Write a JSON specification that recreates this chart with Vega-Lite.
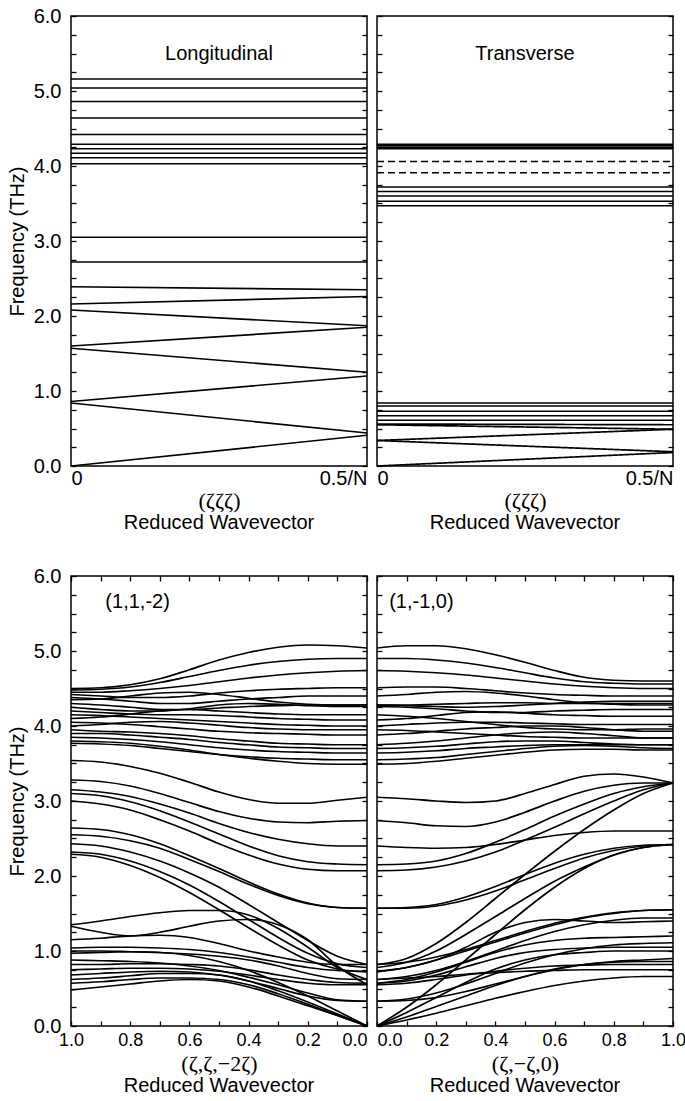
{
"$schema": "https://vega.github.io/schema/vega-lite/v6.json",
"background": "white",
"padding": {"left": 6, "top": 5, "right": 3, "bottom": 5},
"config": {
 "view": {"stroke": "black", "strokeWidth": 1.5},
 "font": "Liberation Sans",
 "axis": {"domain": false, "grid": false, "tickColor": "black", "labelColor": "black", "titleColor": "black", "labelFont": "Liberation Sans", "labelFontSize": 20, "titleFont": "Liberation Sans", "titleFontSize": 20, "titleFontWeight": "normal", "tickSize": -5, "tickWidth": 1.3},
 "title": {"font": "Liberation Sans", "fontSize": 20, "fontWeight": "normal", "color": "black"},
 "line": {"color": "black", "strokeWidth": 1.7},
 "text": {"font": "Liberation Sans", "fontSize": 20, "color": "black"}
},
"datasets": {
 "long": [
  {"c":"a1","x":[0,0.5],"v":[5.16,5.16]},
  {"c":"a2","x":[0,0.5],"v":[5.04,5.04]},
  {"c":"a3","x":[0,0.5],"v":[4.86,4.86]},
  {"c":"a4","x":[0,0.5],"v":[4.64,4.64]},
  {"c":"a5","x":[0,0.5],"v":[4.42,4.42]},
  {"c":"a6","x":[0,0.5],"v":[4.29,4.29]},
  {"c":"a7","x":[0,0.5],"v":[4.23,4.23]},
  {"c":"a8","x":[0,0.5],"v":[4.17,4.17]},
  {"c":"a9","x":[0,0.5],"v":[4.11,4.11]},
  {"c":"a10","x":[0,0.5],"v":[4.03,4.03]},
  {"c":"a11","x":[0,0.5],"v":[3.05,3.05]},
  {"c":"a12","x":[0,0.5],"v":[2.72,2.72]},
  {"c":"a13","x":[0,0.5],"v":[2.39,2.35]},
  {"c":"a14","x":[0,0.5],"v":[2.16,2.26]},
  {"c":"a15","x":[0,0.5],"v":[2.08,1.87]},
  {"c":"a16","x":[0,0.5],"v":[1.60,1.85]},
  {"c":"a17","x":[0,0.5],"v":[1.57,1.25]},
  {"c":"a18","x":[0,0.5],"v":[0.86,1.20]},
  {"c":"a19","x":[0,0.5],"v":[0.84,0.44]},
  {"c":"a20","x":[0,0.5],"v":[0.0,0.41]}
 ],
 "trans": [
  {"c":"b1","k":"s","x":[0,0.5],"v":[4.29,4.29]},
  {"c":"b2","k":"s","x":[0,0.5],"v":[4.27,4.27]},
  {"c":"b3","k":"s","x":[0,0.5],"v":[4.25,4.25]},
  {"c":"b4","k":"s","x":[0,0.5],"v":[4.23,4.23]},
  {"c":"b5","k":"d","x":[0,0.5],"v":[4.06,4.06]},
  {"c":"b6","k":"d","x":[0,0.5],"v":[3.91,3.91]},
  {"c":"b7","k":"s","x":[0,0.5],"v":[3.72,3.72]},
  {"c":"b8","k":"s","x":[0,0.5],"v":[3.66,3.66]},
  {"c":"b9","k":"s","x":[0,0.5],"v":[3.60,3.60]},
  {"c":"b10","k":"s","x":[0,0.5],"v":[3.53,3.53]},
  {"c":"b11","k":"s","x":[0,0.5],"v":[3.47,3.47]},
  {"c":"b12","k":"s","x":[0,0.5],"v":[0.84,0.84]},
  {"c":"b13","k":"s","x":[0,0.5],"v":[0.80,0.80]},
  {"c":"b14","k":"s","x":[0,0.5],"v":[0.73,0.73]},
  {"c":"b15","k":"s","x":[0,0.5],"v":[0.67,0.67]},
  {"c":"b16","k":"s","x":[0,0.5],"v":[0.61,0.61]},
  {"c":"b17","k":"s","x":[0,0.5],"v":[0.56,0.55]},
  {"c":"b18","k":"s","x":[0,0.5],"v":[0.55,0.49]},
  {"c":"b19","k":"s","x":[0,0.5],"v":[0.34,0.49]},
  {"c":"b20","k":"s","x":[0,0.5],"v":[0.34,0.19]},
  {"c":"b21","k":"s","x":[0,0.5],"v":[0.0,0.18]}
 ],
 "left": [
  {"c":"U1","x":[1,0.9,0.8,0.7,0.6,0.5,0.4,0.3,0.2,0.1,0],"v":[4.50,4.51,4.55,4.63,4.75,4.88,4.98,5.05,5.08,5.07,5.04]},
  {"c":"U2","x":[1,0.9,0.8,0.7,0.6,0.5,0.4,0.3,0.2,0.1,0],"v":[4.48,4.49,4.52,4.58,4.66,4.74,4.81,4.86,4.89,4.90,4.90]},
  {"c":"U3","x":[1,0.9,0.8,0.7,0.6,0.5,0.4,0.3,0.2,0.1,0],"v":[4.45,4.45,4.47,4.50,4.54,4.59,4.64,4.68,4.71,4.73,4.74]},
  {"c":"U4","x":[1,0.9,0.8,0.7,0.6,0.5,0.4,0.3,0.2,0.1,0],"v":[4.42,4.40,4.38,4.38,4.40,4.44,4.47,4.49,4.50,4.51,4.51]},
  {"c":"U5","x":[1,0.9,0.8,0.7,0.6,0.5,0.4,0.3,0.2,0.1,0],"v":[4.38,4.36,4.33,4.30,4.30,4.33,4.36,4.38,4.40,4.40,4.40]},
  {"c":"U6","x":[1,0.9,0.8,0.7,0.6,0.5,0.4,0.3,0.2,0.1,0],"v":[4.35,4.36,4.40,4.44,4.45,4.42,4.37,4.32,4.29,4.28,4.28]},
  {"c":"U7","x":[1,0.9,0.8,0.7,0.6,0.5,0.4,0.3,0.2,0.1,0],"v":[4.30,4.28,4.25,4.22,4.22,4.24,4.26,4.27,4.28,4.28,4.28]},
  {"c":"U8","x":[1,0.9,0.8,0.7,0.6,0.5,0.4,0.3,0.2,0.1,0],"v":[4.25,4.22,4.20,4.20,4.23,4.28,4.30,4.29,4.27,4.26,4.26]},
  {"c":"U9","x":[1,0.9,0.8,0.7,0.6,0.5,0.4,0.3,0.2,0.1,0],"v":[4.20,4.18,4.16,4.15,4.15,4.14,4.12,4.10,4.09,4.08,4.08]},
  {"c":"U10","x":[1,0.9,0.8,0.7,0.6,0.5,0.4,0.3,0.2,0.1,0],"v":[4.15,4.14,4.12,4.10,4.08,4.06,4.04,4.02,4.01,4.00,4.00]},
  {"c":"U11","x":[1,0.9,0.8,0.7,0.6,0.5,0.4,0.3,0.2,0.1,0],"v":[4.10,4.12,4.16,4.20,4.22,4.20,4.18,4.16,4.15,4.15,4.15]},
  {"c":"U12","x":[1,0.9,0.8,0.7,0.6,0.5,0.4,0.3,0.2,0.1,0],"v":[4.05,4.04,4.02,3.99,3.96,3.93,3.91,3.90,3.89,3.88,3.88]},
  {"c":"U13","x":[1,0.9,0.8,0.7,0.6,0.5,0.4,0.3,0.2,0.1,0],"v":[4.00,4.02,4.05,4.06,4.04,4.01,3.98,3.96,3.95,3.95,3.95]},
  {"c":"U14","x":[1,0.9,0.8,0.7,0.6,0.5,0.4,0.3,0.2,0.1,0],"v":[3.95,3.93,3.92,3.90,3.87,3.83,3.80,3.77,3.76,3.75,3.75]},
  {"c":"U15","x":[1,0.9,0.8,0.7,0.6,0.5,0.4,0.3,0.2,0.1,0],"v":[3.90,3.90,3.88,3.85,3.82,3.78,3.75,3.72,3.71,3.70,3.70]},
  {"c":"U16","x":[1,0.9,0.8,0.7,0.6,0.5,0.4,0.3,0.2,0.1,0],"v":[3.85,3.84,3.82,3.79,3.75,3.71,3.68,3.66,3.65,3.64,3.64]},
  {"c":"U17","x":[1,0.9,0.8,0.7,0.6,0.5,0.4,0.3,0.2,0.1,0],"v":[3.80,3.79,3.77,3.73,3.68,3.62,3.57,3.53,3.50,3.49,3.49]},
  {"c":"U18","x":[1,0.9,0.8,0.7,0.6,0.5,0.4,0.3,0.2,0.1,0],"v":[3.77,3.76,3.74,3.70,3.66,3.62,3.59,3.57,3.56,3.55,3.55]},
  {"c":"M1","x":[1,0.9,0.8,0.7,0.6,0.5,0.4,0.3,0.2,0.1,0],"v":[3.54,3.52,3.46,3.37,3.25,3.12,3.02,2.97,2.97,3.01,3.05]},
  {"c":"M2","x":[1,0.9,0.8,0.7,0.6,0.5,0.4,0.3,0.2,0.1,0],"v":[3.28,3.26,3.20,3.10,2.98,2.86,2.77,2.72,2.71,2.73,2.74]},
  {"c":"M3","x":[1,0.9,0.8,0.7,0.6,0.5,0.4,0.3,0.2,0.1,0],"v":[3.15,3.12,3.06,2.96,2.84,2.70,2.58,2.49,2.43,2.40,2.40]},
  {"c":"M4","x":[1,0.9,0.8,0.7,0.6,0.5,0.4,0.3,0.2,0.1,0],"v":[3.10,3.07,2.99,2.87,2.72,2.56,2.40,2.27,2.19,2.16,2.15]},
  {"c":"M5","x":[1,0.9,0.8,0.7,0.6,0.5,0.4,0.3,0.2,0.1,0],"v":[3.00,2.96,2.88,2.75,2.60,2.43,2.28,2.16,2.09,2.07,2.07]},
  {"c":"M6","x":[1,0.9,0.8,0.7,0.6,0.5,0.4,0.3,0.2,0.1,0],"v":[2.64,2.62,2.55,2.43,2.27,2.10,1.92,1.76,1.64,1.58,1.57]},
  {"c":"M7","x":[1,0.9,0.8,0.7,0.6,0.5,0.4,0.3,0.2,0.1,0],"v":[2.55,2.53,2.47,2.37,2.22,2.06,1.89,1.74,1.63,1.58,1.57]},
  {"c":"M8","x":[1,0.9,0.8,0.7,0.6,0.5,0.4,0.3,0.2,0.1,0],"v":[2.43,2.40,2.32,2.20,2.04,1.85,1.62,1.38,1.14,0.93,0.82]},
  {"c":"M9","x":[1,0.9,0.8,0.7,0.6,0.5,0.4,0.3,0.2,0.1,0],"v":[2.32,2.29,2.20,2.06,1.88,1.66,1.42,1.18,0.97,0.83,0.78]},
  {"c":"M10","x":[1,0.9,0.8,0.7,0.6,0.5,0.4,0.3,0.2,0.1,0],"v":[2.29,2.25,2.14,1.98,1.78,1.55,1.31,1.08,0.88,0.76,0.72]},
  {"c":"L1","x":[1,0.9,0.8,0.7,0.6,0.5,0.4,0.3,0.2,0.1,0],"v":[1.35,1.40,1.46,1.51,1.54,1.54,1.48,1.30,1.05,0.78,0.62]},
  {"c":"L2","x":[1,0.9,0.8,0.7,0.6,0.5,0.4,0.3,0.2,0.1,0],"v":[1.33,1.25,1.20,1.25,1.33,1.40,1.42,1.35,1.15,0.80,0.55]},
  {"c":"L3","x":[1,0.9,0.8,0.7,0.6,0.5,0.4,0.3,0.2,0.1,0],"v":[1.15,1.17,1.20,1.21,1.18,1.10,1.00,0.92,0.85,0.82,0.82]},
  {"c":"L4","x":[1,0.9,0.8,0.7,0.6,0.5,0.4,0.3,0.2,0.1,0],"v":[1.04,1.05,1.05,1.04,1.02,0.98,0.92,0.85,0.78,0.74,0.73]},
  {"c":"L5","x":[1,0.9,0.8,0.7,0.6,0.5,0.4,0.3,0.2,0.1,0],"v":[1.00,1.00,0.99,0.98,0.96,0.93,0.88,0.80,0.70,0.63,0.62]},
  {"c":"L6","x":[1,0.9,0.8,0.7,0.6,0.5,0.4,0.3,0.2,0.1,0],"v":[0.97,0.98,0.99,0.98,0.94,0.86,0.74,0.58,0.40,0.20,0.00]},
  {"c":"L7","x":[1,0.9,0.8,0.7,0.6,0.5,0.4,0.3,0.2,0.1,0],"v":[0.88,0.87,0.86,0.84,0.80,0.74,0.65,0.55,0.44,0.35,0.33]},
  {"c":"L8","x":[1,0.9,0.8,0.7,0.6,0.5,0.4,0.3,0.2,0.1,0],"v":[0.82,0.82,0.83,0.83,0.82,0.80,0.75,0.68,0.62,0.58,0.57]},
  {"c":"L9","x":[1,0.9,0.8,0.7,0.6,0.5,0.4,0.3,0.2,0.1,0],"v":[0.75,0.76,0.77,0.77,0.76,0.73,0.68,0.62,0.57,0.55,0.55]},
  {"c":"L10","x":[1,0.9,0.8,0.7,0.6,0.5,0.4,0.3,0.2,0.1,0],"v":[0.68,0.70,0.72,0.73,0.72,0.68,0.60,0.50,0.40,0.34,0.33]},
  {"c":"L11","x":[1,0.9,0.8,0.7,0.6,0.5,0.4,0.3,0.2,0.1,0],"v":[0.62,0.64,0.67,0.70,0.70,0.68,0.60,0.47,0.32,0.16,0.00]},
  {"c":"L12","x":[1,0.9,0.8,0.7,0.6,0.5,0.4,0.3,0.2,0.1,0],"v":[0.57,0.59,0.62,0.64,0.64,0.62,0.55,0.43,0.29,0.14,0.00]},
  {"c":"L13","x":[1,0.9,0.8,0.7,0.6,0.5,0.4,0.3,0.2,0.1,0],"v":[0.48,0.52,0.56,0.60,0.62,0.60,0.52,0.40,0.27,0.14,0.00]}
 ],
 "right": [
  {"c":"RU1","x":[0,0.1,0.2,0.3,0.4,0.5,0.6,0.7,0.8,0.9,1],"v":[5.04,5.07,5.07,5.03,4.95,4.85,4.74,4.65,4.61,4.60,4.60]},
  {"c":"RU2","x":[0,0.1,0.2,0.3,0.4,0.5,0.6,0.7,0.8,0.9,1],"v":[4.90,4.90,4.88,4.84,4.78,4.71,4.64,4.59,4.57,4.56,4.56]},
  {"c":"RU3","x":[0,0.1,0.2,0.3,0.4,0.5,0.6,0.7,0.8,0.9,1],"v":[4.74,4.73,4.71,4.68,4.64,4.60,4.56,4.53,4.51,4.50,4.50]},
  {"c":"RU4","x":[0,0.1,0.2,0.3,0.4,0.5,0.6,0.7,0.8,0.9,1],"v":[4.51,4.52,4.52,4.50,4.47,4.44,4.42,4.41,4.40,4.40,4.40]},
  {"c":"RU5","x":[0,0.1,0.2,0.3,0.4,0.5,0.6,0.7,0.8,0.9,1],"v":[4.40,4.42,4.45,4.46,4.44,4.40,4.35,4.31,4.30,4.30,4.30]},
  {"c":"RU6","x":[0,0.1,0.2,0.3,0.4,0.5,0.6,0.7,0.8,0.9,1],"v":[4.28,4.28,4.29,4.30,4.31,4.31,4.30,4.30,4.29,4.28,4.28]},
  {"c":"RU7","x":[0,0.1,0.2,0.3,0.4,0.5,0.6,0.7,0.8,0.9,1],"v":[4.28,4.27,4.26,4.25,4.26,4.28,4.30,4.32,4.33,4.33,4.33]},
  {"c":"RU8","x":[0,0.1,0.2,0.3,0.4,0.5,0.6,0.7,0.8,0.9,1],"v":[4.26,4.25,4.23,4.20,4.18,4.18,4.20,4.21,4.22,4.22,4.22]},
  {"c":"RU9","x":[0,0.1,0.2,0.3,0.4,0.5,0.6,0.7,0.8,0.9,1],"v":[4.08,4.10,4.14,4.18,4.19,4.17,4.15,4.14,4.13,4.13,4.13]},
  {"c":"RU10","x":[0,0.1,0.2,0.3,0.4,0.5,0.6,0.7,0.8,0.9,1],"v":[4.00,4.02,4.04,4.05,4.05,4.04,4.03,4.02,4.02,4.02,4.02]},
  {"c":"RU11","x":[0,0.1,0.2,0.3,0.4,0.5,0.6,0.7,0.8,0.9,1],"v":[4.15,4.13,4.10,4.06,4.02,3.98,3.96,3.95,3.95,3.96,3.96]},
  {"c":"RU12","x":[0,0.1,0.2,0.3,0.4,0.5,0.6,0.7,0.8,0.9,1],"v":[3.88,3.90,3.93,3.96,3.98,4.00,4.00,3.98,3.95,3.93,3.93]},
  {"c":"RU13","x":[0,0.1,0.2,0.3,0.4,0.5,0.6,0.7,0.8,0.9,1],"v":[3.95,3.94,3.92,3.90,3.88,3.86,3.85,3.84,3.84,3.84,3.84]},
  {"c":"RU14","x":[0,0.1,0.2,0.3,0.4,0.5,0.6,0.7,0.8,0.9,1],"v":[3.75,3.77,3.80,3.84,3.88,3.91,3.92,3.90,3.87,3.84,3.84]},
  {"c":"RU15","x":[0,0.1,0.2,0.3,0.4,0.5,0.6,0.7,0.8,0.9,1],"v":[3.70,3.71,3.73,3.76,3.79,3.80,3.80,3.78,3.76,3.75,3.75]},
  {"c":"RU16","x":[0,0.1,0.2,0.3,0.4,0.5,0.6,0.7,0.8,0.9,1],"v":[3.64,3.65,3.67,3.70,3.72,3.74,3.75,3.75,3.75,3.75,3.75]},
  {"c":"RU17","x":[0,0.1,0.2,0.3,0.4,0.5,0.6,0.7,0.8,0.9,1],"v":[3.49,3.50,3.53,3.57,3.61,3.65,3.68,3.69,3.69,3.68,3.68]},
  {"c":"RU18","x":[0,0.1,0.2,0.3,0.4,0.5,0.6,0.7,0.8,0.9,1],"v":[3.55,3.56,3.58,3.62,3.66,3.70,3.73,3.74,3.73,3.71,3.70]},
  {"c":"RM1","x":[0,0.1,0.2,0.3,0.4,0.5,0.6,0.7,0.8,0.9,1],"v":[3.05,3.03,3.00,2.98,3.00,3.10,3.22,3.33,3.36,3.32,3.24]},
  {"c":"RM2","x":[0,0.1,0.2,0.3,0.4,0.5,0.6,0.7,0.8,0.9,1],"v":[2.74,2.71,2.67,2.66,2.72,2.85,3.00,3.13,3.21,3.24,3.24]},
  {"c":"RM3","x":[0,0.1,0.2,0.3,0.4,0.5,0.6,0.7,0.8,0.9,1],"v":[2.40,2.38,2.37,2.38,2.42,2.48,2.54,2.58,2.60,2.60,2.60]},
  {"c":"RM4","x":[0,0.1,0.2,0.3,0.4,0.5,0.6,0.7,0.8,0.9,1],"v":[2.15,2.16,2.20,2.30,2.45,2.62,2.80,2.96,3.10,3.19,3.24]},
  {"c":"RM5","x":[0,0.1,0.2,0.3,0.4,0.5,0.6,0.7,0.8,0.9,1],"v":[2.07,2.08,2.12,2.20,2.32,2.48,2.65,2.83,3.00,3.15,3.24]},
  {"c":"RM6","x":[0,0.1,0.2,0.3,0.4,0.5,0.6,0.7,0.8,0.9,1],"v":[1.57,1.58,1.62,1.72,1.86,2.02,2.17,2.29,2.37,2.41,2.42]},
  {"c":"RM6b","x":[0,0.1,0.2,0.3,0.4,0.5,0.6,0.7,0.8,0.9,1],"v":[1.57,1.57,1.60,1.68,1.80,1.95,2.10,2.24,2.34,2.40,2.42]},
  {"c":"RM7","x":[0,0.1,0.2,0.3,0.4,0.5,0.6,0.7,0.8,0.9,1],"v":[0.82,0.90,1.10,1.38,1.70,2.02,2.33,2.62,2.88,3.10,3.24]},
  {"c":"RM8","x":[0,0.1,0.2,0.3,0.4,0.5,0.6,0.7,0.8,0.9,1],"v":[0.78,0.85,1.00,1.22,1.46,1.70,1.93,2.12,2.28,2.38,2.42]},
  {"c":"RM9","x":[0,0.1,0.2,0.3,0.4,0.5,0.6,0.7,0.8,0.9,1],"v":[0.00,0.25,0.55,0.88,1.22,1.55,1.85,2.10,2.28,2.38,2.42]},
  {"c":"RM10","x":[0,0.1,0.2,0.3,0.4,0.5,0.6,0.7,0.8,0.9,1],"v":[0.72,0.78,0.88,1.00,1.12,1.24,1.35,1.44,1.50,1.54,1.55]},
  {"c":"RL1","x":[0,0.1,0.2,0.3,0.4,0.5,0.6,0.7,0.8,0.9,1],"v":[0.82,0.85,0.92,1.02,1.14,1.26,1.37,1.45,1.51,1.54,1.55]},
  {"c":"RL2","x":[0,0.1,0.2,0.3,0.4,0.5,0.6,0.7,0.8,0.9,1],"v":[0.62,0.66,0.74,0.86,1.00,1.14,1.26,1.35,1.41,1.44,1.44]},
  {"c":"RL3","x":[0,0.1,0.2,0.3,0.4,0.5,0.6,0.7,0.8,0.9,1],"v":[0.73,0.78,0.88,1.05,1.25,1.38,1.42,1.40,1.38,1.39,1.40]},
  {"c":"RL4","x":[0,0.1,0.2,0.3,0.4,0.5,0.6,0.7,0.8,0.9,1],"v":[0.57,0.62,0.72,0.85,0.98,1.08,1.14,1.17,1.18,1.19,1.20]},
  {"c":"RL5","x":[0,0.1,0.2,0.3,0.4,0.5,0.6,0.7,0.8,0.9,1],"v":[0.33,0.36,0.44,0.56,0.70,0.84,0.95,1.03,1.08,1.10,1.11]},
  {"c":"RL6","x":[0,0.1,0.2,0.3,0.4,0.5,0.6,0.7,0.8,0.9,1],"v":[0.00,0.18,0.38,0.58,0.76,0.88,0.95,0.98,1.00,1.00,1.00]},
  {"c":"RL7","x":[0,0.1,0.2,0.3,0.4,0.5,0.6,0.7,0.8,0.9,1],"v":[0.00,0.12,0.26,0.40,0.54,0.66,0.76,0.82,0.85,0.86,0.86]},
  {"c":"RL8","x":[0,0.1,0.2,0.3,0.4,0.5,0.6,0.7,0.8,0.9,1],"v":[0.00,0.08,0.17,0.27,0.37,0.46,0.54,0.60,0.64,0.66,0.66]},
  {"c":"RL9","x":[0,0.1,0.2,0.3,0.4,0.5,0.6,0.7,0.8,0.9,1],"v":[0.55,0.57,0.62,0.68,0.73,0.77,0.80,0.81,0.82,0.82,0.82]},
  {"c":"RL10","x":[0,0.1,0.2,0.3,0.4,0.5,0.6,0.7,0.8,0.9,1],"v":[0.62,0.64,0.66,0.69,0.71,0.73,0.74,0.75,0.75,0.75,0.75]},
  {"c":"RL11","x":[0,0.1,0.2,0.3,0.4,0.5,0.6,0.7,0.8,0.9,1],"v":[0.33,0.34,0.38,0.46,0.56,0.66,0.75,0.82,0.86,0.88,0.90]},
  {"c":"RL12","x":[0,0.1,0.2,0.3,0.4,0.5,0.6,0.7,0.8,0.9,1],"v":[0.57,0.60,0.68,0.79,0.90,0.98,1.02,1.04,1.05,1.05,1.05]}
 ]
},
"spacing": 31,
"vconcat": [
 {"hconcat": [
  {"width": 296, "height": 450,
   "title": {"text": "Reduced Wavevector", "orient": "bottom", "offset": 2},
   "layer": [
    {"data": {"name": "long"}, "transform": [{"flatten": ["x", "v"]}],
     "mark": {"type": "line"},
     "encoding": {
      "x": {"field": "x", "type": "quantitative", "scale": {"domain": [0, 0.5], "nice": false},
            "axis": {"orient": "bottom", "values": [0, 0.5], "labelExpr": "datum.value == 0 ? '0' : '0.5/N'", "labelFlush": true, "ticks": false, "labelPadding": 2, "title": "(ζζζ)", "titleFont": "Liberation Serif", "titleFontSize": 22, "titlePadding": 2}},
      "y": {"field": "v", "type": "quantitative", "scale": {"domain": [0, 6], "nice": false, "zero": false},
            "axis": {"orient": "left", "values": [0,0.25,0.5,0.75,1,1.25,1.5,1.75,2,2.25,2.5,2.75,3,3.25,3.5,3.75,4,4.25,4.5,4.75,5,5.25,5.5,5.75,6], "labelExpr": "datum.value % 1 === 0 ? format(datum.value, '.1f') : ''", "title": "Frequency (THz)", "titlePadding": 6, "labelPadding": 15}},
      "detail": {"field": "c"}
     }},
    {"data": {"values": [{"label": "Longitudinal"}]},
     "mark": {"type": "text"},
     "encoding": {
      "x": {"datum": 0.25, "type": "quantitative", "scale": {"domain": [0, 0.5], "nice": false},
            "axis": {"orient": "bottom", "values": [0, 0.5], "labelExpr": "datum.value == 0 ? '0' : '0.5/N'", "labelFlush": true, "ticks": false, "labelPadding": 2, "title": "(ζζζ)", "titleFont": "Liberation Serif", "titleFontSize": 22, "titlePadding": 2}},
      "y": {"datum": 5.5, "type": "quantitative", "scale": {"domain": [0, 6]},
            "axis": {"orient": "right", "values": [0,0.25,0.5,0.75,1,1.25,1.5,1.75,2,2.25,2.5,2.75,3,3.25,3.5,3.75,4,4.25,4.5,4.75,5,5.25,5.5,5.75,6], "labels": false, "title": null}},
      "text": {"field": "label"}
     }}
   ]},
  {"width": 296, "height": 450,
   "title": {"text": "Reduced Wavevector", "orient": "bottom", "offset": 2},
   "layer": [
    {"data": {"name": "trans"}, "transform": [{"flatten": ["x", "v"]}],
     "mark": {"type": "line"},
     "encoding": {
      "x": {"field": "x", "type": "quantitative", "scale": {"domain": [0, 0.5], "nice": false},
            "axis": {"orient": "bottom", "values": [0, 0.5], "labelExpr": "datum.value == 0 ? '0' : '0.5/N'", "labelFlush": true, "ticks": false, "labelPadding": 2, "title": "(ζζζ)", "titleFont": "Liberation Serif", "titleFontSize": 22, "titlePadding": 2}},
      "y": {"field": "v", "type": "quantitative", "scale": {"domain": [0, 6], "nice": false, "zero": false},
            "axis": {"orient": "left", "values": [0,0.25,0.5,0.75,1,1.25,1.5,1.75,2,2.25,2.5,2.75,3,3.25,3.5,3.75,4,4.25,4.5,4.75,5,5.25,5.5,5.75,6], "labels": false, "title": null}},
      "detail": {"field": "c"},
      "strokeDash": {"field": "k", "type": "nominal", "scale": {"domain": ["s", "d"], "range": [[1, 0], [7, 4]]}, "legend": null}
     }},
    {"data": {"values": [{"label": "Transverse"}]},
     "mark": {"type": "text"},
     "encoding": {
      "x": {"datum": 0.25, "type": "quantitative", "scale": {"domain": [0, 0.5], "nice": false},
            "axis": {"orient": "bottom", "values": [0, 0.5], "labelExpr": "datum.value == 0 ? '0' : '0.5/N'", "labelFlush": true, "ticks": false, "labelPadding": 2, "title": "(ζζζ)", "titleFont": "Liberation Serif", "titleFontSize": 22, "titlePadding": 2}},
      "y": {"datum": 5.5, "type": "quantitative", "scale": {"domain": [0, 6]},
            "axis": {"orient": "right", "values": [0,0.25,0.5,0.75,1,1.25,1.5,1.75,2,2.25,2.5,2.75,3,3.25,3.5,3.75,4,4.25,4.5,4.75,5,5.25,5.5,5.75,6], "labels": false, "title": null}},
      "text": {"field": "label"}
     }}
   ]}
 ], "spacing": 0},
 {"hconcat": [
  {"width": 296, "height": 450,
   "title": {"text": "Reduced Wavevector", "orient": "bottom", "offset": 2},
   "layer": [
    {"data": {"name": "left"}, "transform": [{"flatten": ["x", "v"]}],
     "mark": {"type": "line", "interpolate": "monotone"},
     "encoding": {
      "x": {"field": "x", "type": "quantitative", "scale": {"domain": [0, 1], "nice": false, "reverse": true},
            "axis": {"orient": "bottom", "values": [0,0.1,0.2,0.3,0.4,0.5,0.6,0.7,0.8,0.9,1], "labelExpr": "round(datum.value*10) % 2 == 0 ? format(datum.value, '.1f') : ''", "labelAlign": {"condition": {"test": "datum.value == 0", "value": "right"}, "value": "center"}, "labelFontSize": 18, "labelPadding": 10, "title": "(ζ,ζ,−2ζ)", "titleFont": "Liberation Serif", "titleFontSize": 22, "titlePadding": 4}},
      "y": {"field": "v", "type": "quantitative", "scale": {"domain": [0, 6], "nice": false, "zero": false},
            "axis": {"orient": "left", "values": [0,0.25,0.5,0.75,1,1.25,1.5,1.75,2,2.25,2.5,2.75,3,3.25,3.5,3.75,4,4.25,4.5,4.75,5,5.25,5.5,5.75,6], "labelExpr": "datum.value % 1 === 0 ? format(datum.value, '.1f') : ''", "title": "Frequency (THz)", "titlePadding": 6, "labelPadding": 15}},
      "detail": {"field": "c"}
     }},
    {"data": {"values": [{"label": "(1,1,-2)"}]},
     "mark": {"type": "text"},
     "encoding": {
      "x": {"datum": 0.775, "type": "quantitative", "scale": {"domain": [0, 1], "reverse": true},
            "axis": {"orient": "top", "values": [0,0.1,0.2,0.3,0.4,0.5,0.6,0.7,0.8,0.9,1], "labels": false, "title": null}},
      "y": {"datum": 5.66, "type": "quantitative", "scale": {"domain": [0, 6]},
            "axis": {"orient": "right", "values": [0,0.25,0.5,0.75,1,1.25,1.5,1.75,2,2.25,2.5,2.75,3,3.25,3.5,3.75,4,4.25,4.5,4.75,5,5.25,5.5,5.75,6], "labels": false, "title": null}},
      "text": {"field": "label"}
     }}
   ]},
  {"width": 296, "height": 450,
   "title": {"text": "Reduced Wavevector", "orient": "bottom", "offset": 2},
   "layer": [
    {"data": {"name": "right"}, "transform": [{"flatten": ["x", "v"]}],
     "mark": {"type": "line", "interpolate": "monotone"},
     "encoding": {
      "x": {"field": "x", "type": "quantitative", "scale": {"domain": [0, 1], "nice": false},
            "axis": {"orient": "bottom", "values": [0,0.1,0.2,0.3,0.4,0.5,0.6,0.7,0.8,0.9,1], "labelExpr": "round(datum.value*10) % 2 == 0 ? format(datum.value, '.1f') : ''", "labelAlign": {"condition": {"test": "datum.value == 0", "value": "left"}, "value": "center"}, "labelFontSize": 18, "labelPadding": 10, "title": "(ζ,−ζ,0)", "titleFont": "Liberation Serif", "titleFontSize": 22, "titlePadding": 4}},
      "y": {"field": "v", "type": "quantitative", "scale": {"domain": [0, 6], "nice": false, "zero": false},
            "axis": {"orient": "left", "values": [0,0.25,0.5,0.75,1,1.25,1.5,1.75,2,2.25,2.5,2.75,3,3.25,3.5,3.75,4,4.25,4.5,4.75,5,5.25,5.5,5.75,6], "labels": false, "title": null}},
      "detail": {"field": "c"}
     }},
    {"data": {"values": [{"label": "(1,-1,0)"}]},
     "mark": {"type": "text"},
     "encoding": {
      "x": {"datum": 0.15, "type": "quantitative", "scale": {"domain": [0, 1]},
            "axis": {"orient": "top", "values": [0,0.1,0.2,0.3,0.4,0.5,0.6,0.7,0.8,0.9,1], "labels": false, "title": null}},
      "y": {"datum": 5.66, "type": "quantitative", "scale": {"domain": [0, 6]},
            "axis": {"orient": "right", "values": [0,0.25,0.5,0.75,1,1.25,1.5,1.75,2,2.25,2.5,2.75,3,3.25,3.5,3.75,4,4.25,4.5,4.75,5,5.25,5.5,5.75,6], "labels": false, "title": null}},
      "text": {"field": "label"}
     }}
   ]}
 ], "spacing": 0}
]
}
